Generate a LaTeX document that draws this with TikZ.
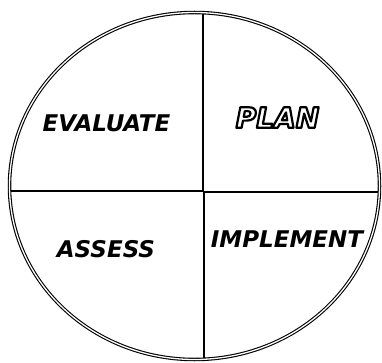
\documentclass[tikz,border=0pt]{standalone}
\usepackage{fontspec}
\setsansfont{DejaVu Sans}

\newcommand{\hollow}[1]{\special{pdf:literal direct 1 Tr 2.2 w 1 j 0 G}#1\special{pdf:literal direct 0 Tr}}

\tikzset{
  quarter/.style = {font=\sffamily\bfseries\itshape\fontsize{23}{23}\selectfont, inner sep=0pt},
  divider/.style = {line width=1.4pt}
}

\begin{document}
\begin{tikzpicture}[x=1pt, y=-1pt]
\useasboundingbox (0,0) rectangle (382,363);
% outer ring
\draw [double, double distance=1.3pt, line width=1.1pt] (194.5,186) ellipse [x radius=185, y radius=173.5];
% the two dividing lines
\draw [divider] (203,14.5) -- (203,191);
\draw [divider] (204,191) -- (204,358);
\draw [divider] (11,191) -- (203,191);
\draw [divider] (204,192) -- (378,192);
% labels
\node (evaluate) [quarter] at (106.5,123.5) {EVALUATE};
\node (assess) [quarter] at (106,249) {ASSESS};
\node (implement) [quarter] at (287,239) {IMPLEMENT};
\node (plan) [quarter, font=\sffamily\bfseries\itshape\fontsize{28}{28}\selectfont] at (277.5,117.5) {\hollow{PLAN}};
\end{tikzpicture}
\end{document}
